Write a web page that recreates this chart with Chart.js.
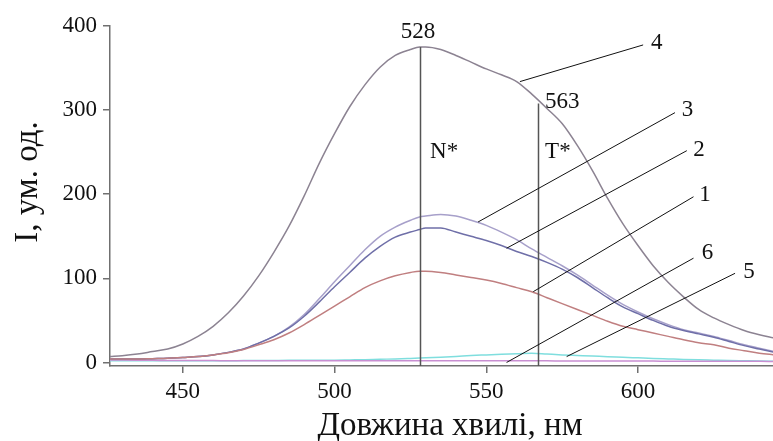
<!DOCTYPE html>
<html>
<head>
<meta charset="utf-8">
<script src="https://cdn.jsdelivr.net/npm/chart.js@4/dist/chart.umd.min.js"></script>
<style>
  body { margin: 0; background: #fff; }
  canvas { display: block; }
</style>
</head>
<body>
<canvas id="spectra" width="773" height="441"></canvas>
<script>
// wavelengths, nm
const wavelengths = [426, 430, 435, 440, 445, 450, 455, 460, 465, 470, 475, 480, 485, 490, 495,
  500, 505, 510, 515, 520, 525, 528, 530, 535, 540, 545, 550, 555, 560, 565, 570, 575, 580,
  585, 590, 595, 600, 605, 610, 615, 620, 625, 630, 635, 640, 645];

const curve1 = [4, 4, 4, 4.5, 5, 6, 7, 9, 11.5, 15.5, 21, 27, 35, 45, 56,
  67, 78, 89, 97, 103, 107, 108.5, 108.5, 107, 104, 101, 98, 94, 89, 84, 77, 70, 63,
  56, 49, 43, 39, 35, 31, 27, 23.5, 21, 17, 14, 11, 9];
const curve2 = [4, 4, 4, 4.5, 5, 6, 7, 9, 12, 16, 23, 31, 41, 55, 72,
  90, 107, 124, 138, 149, 155, 158, 160, 160, 155, 150, 145, 139, 132, 126, 119, 111, 101,
  89, 77, 66, 58, 50, 43, 38, 34, 30, 25, 20, 16, 12];
const curve3 = [4, 4, 4, 4.5, 5, 6, 7, 9, 12, 16, 23, 31, 42, 57, 76,
  96, 115, 134, 150, 161, 169, 173, 174, 176, 174, 169, 163, 155, 146, 135, 125, 115, 104,
  92, 80, 69, 60, 52, 45, 39, 35, 31, 26, 21, 17, 13];
const curve4 = [7, 8, 10, 13, 16, 22, 31, 43, 59, 79, 103, 131, 162, 198, 237,
  272, 304, 330, 351, 365, 372, 375, 375, 372, 365, 357, 349, 342, 334, 319, 302, 284, 258,
  228, 195, 165, 139, 115, 95, 78, 63, 53, 45, 38, 33, 29];
const curve5 = [3, 2.8, 2.6, 2.5, 2.4, 2.3, 2.2, 2.2, 2.1, 2.1, 2, 2, 2, 2, 2,
  2, 2, 2, 2, 2, 2, 2, 2, 2, 2, 2, 2, 2, 2, 1.9, 1.9, 1.8, 1.8,
  1.8, 1.7, 1.7, 1.6, 1.6, 1.5, 1.5, 1.5, 1.4, 1.4, 1.3, 1.3, 1.2];
const curve6 = [2, 2, 2, 2, 2, 2, 2, 2, 2, 2.2, 2.3, 2.4, 2.5, 2.5, 2.6,
  2.7, 3, 3.3, 3.8, 4.2, 4.8, 5.2, 5.5, 6.3, 7.2, 8.2, 9, 9.8, 10.3, 11, 10, 9, 8.3,
  7.6, 6.8, 6.2, 5.5, 4.8, 4.2, 3.6, 3.1, 2.7, 2.3, 2, 1.7, 1.5];

const seriesNames = ["1", "2", "3", "4", "5", "6"];
const seriesValues = [curve1, curve2, curve3, curve4, curve5, curve6];
const seriesColors = ["#c07f80", "#6f6fa8", "#a7a0ca", "#8c8392", "#c98fd2", "#7fdede"];

const xTicks = [450, 500, 550, 600];
const yTicks = [0, 100, 200, 300, 400];

// vertical marker lines: [wavelength, top intensity]
const markers = [[528, 375], [567, 308]];
// text notes: [text, wavelength, intensity, align]
const notes = [
  ["528", 527.5, 393, "center"],
  ["563", 569.4, 310, "left"],
  ["N*", 531.5, 250.6, "left"],
  ["T*", 569.4, 250.6, "left"],
  ["4", 606.2, 380.3, "center"],
  ["3", 616.3, 300.2, "center"],
  ["2", 620.1, 252.7, "center"],
  ["1", 622.1, 199.2, "center"],
  ["6", 622.9, 129.8, "center"],
  ["5", 636.6, 108, "center"]
];
// leader lines: [from wl, from I, to wl, to I]
const leaders = [
  [601.7, 377.5, 561.1, 333.9],
  [612.2, 297, 547.3, 167],
  [616.1, 251.8, 556.7, 135.8],
  [618.3, 197, 565.5, 84.2],
  [618.3, 124, 556.7, 0],
  [632, 106, 576.5, 7]
];

const serif = "'Liberation Serif', 'Times New Roman', serif";

const datasets = seriesValues.map(function(vals, i) {
  return {
    label: seriesNames[i],
    data: wavelengths.map(function(w, j) { return { x: w, y: vals[j] }; }),
    borderColor: seriesColors[i],
    borderWidth: 1.5,
    pointRadius: 0,
    cubicInterpolationMode: "monotone",
    fill: false
  };
});

const notesPlugin = {
  id: "notes",
  afterDatasetsDraw(chart) {
    const ctx = chart.ctx;
    const x = chart.scales.x;
    const y = chart.scales.y;
    ctx.save();
    ctx.strokeStyle = "#555";
    ctx.lineWidth = 1.5;
    markers.forEach(function(m) {
      const px = Math.round(x.getPixelForValue(m[0])) + 0.5;
      ctx.beginPath();
      ctx.moveTo(px, y.getPixelForValue(m[1]));
      ctx.lineTo(px, chart.chartArea.bottom);
      ctx.stroke();
    });
    ctx.strokeStyle = "#111";
    ctx.lineWidth = 1;
    leaders.forEach(function(l) {
      ctx.beginPath();
      ctx.moveTo(x.getPixelForValue(l[0]), y.getPixelForValue(l[1]));
      ctx.lineTo(x.getPixelForValue(l[2]), y.getPixelForValue(l[3]));
      ctx.stroke();
    });
    ctx.fillStyle = "#111";
    ctx.font = "23px " + serif;
    ctx.textBaseline = "middle";
    notes.forEach(function(n) {
      ctx.textAlign = n[3];
      ctx.fillText(n[0], x.getPixelForValue(n[1]), y.getPixelForValue(n[2]));
    });
    // axis titles
    ctx.font = "33px " + serif;
    ctx.textAlign = "center";
    ctx.textBaseline = "alphabetic";
    ctx.fillText("Довжина хвилі, нм", 450, 435);
    ctx.translate(37, 182);
    ctx.rotate(-Math.PI / 2);
    ctx.fillText("I, ум. од.", 0, 0);
    ctx.restore();
  }
};

new Chart(document.getElementById("spectra"), {
  type: "line",
  data: { datasets: datasets },
  plugins: [notesPlugin],
  options: {
    responsive: false,
    animation: false,
    layout: { padding: { top: 26, right: 0, left: 0, bottom: 0 } },
    plugins: { legend: { display: false }, tooltip: { enabled: false } },
    scales: {
      x: {
        type: "linear",
        min: 426,
        max: 644.5,
        afterBuildTicks: function(s) { s.ticks = xTicks.map(function(v) { return { value: v }; }); },
        afterFit: function(s) { s.height = 75; },
        grid: { display: true, drawOnChartArea: false, tickLength: 7, color: "#707070", lineWidth: 1.5 },
        border: { display: true, color: "#707070", width: 1.5 },
        ticks: { color: "#111", padding: 5, maxRotation: 0, font: { family: serif, size: 23 } }
      },
      y: {
        min: -4.2,
        max: 400,
        afterBuildTicks: function(s) { s.ticks = yTicks.map(function(v) { return { value: v }; }); },
        afterFit: function(s) { s.width = 110; },
        grid: { display: true, drawOnChartArea: false, tickLength: 7, color: "#707070", lineWidth: 1.5 },
        border: { display: true, color: "#707070", width: 1.5 },
        ticks: { color: "#111", padding: 6, font: { family: serif, size: 23 } }
      }
    }
  }
});
</script>
</body>
</html>
